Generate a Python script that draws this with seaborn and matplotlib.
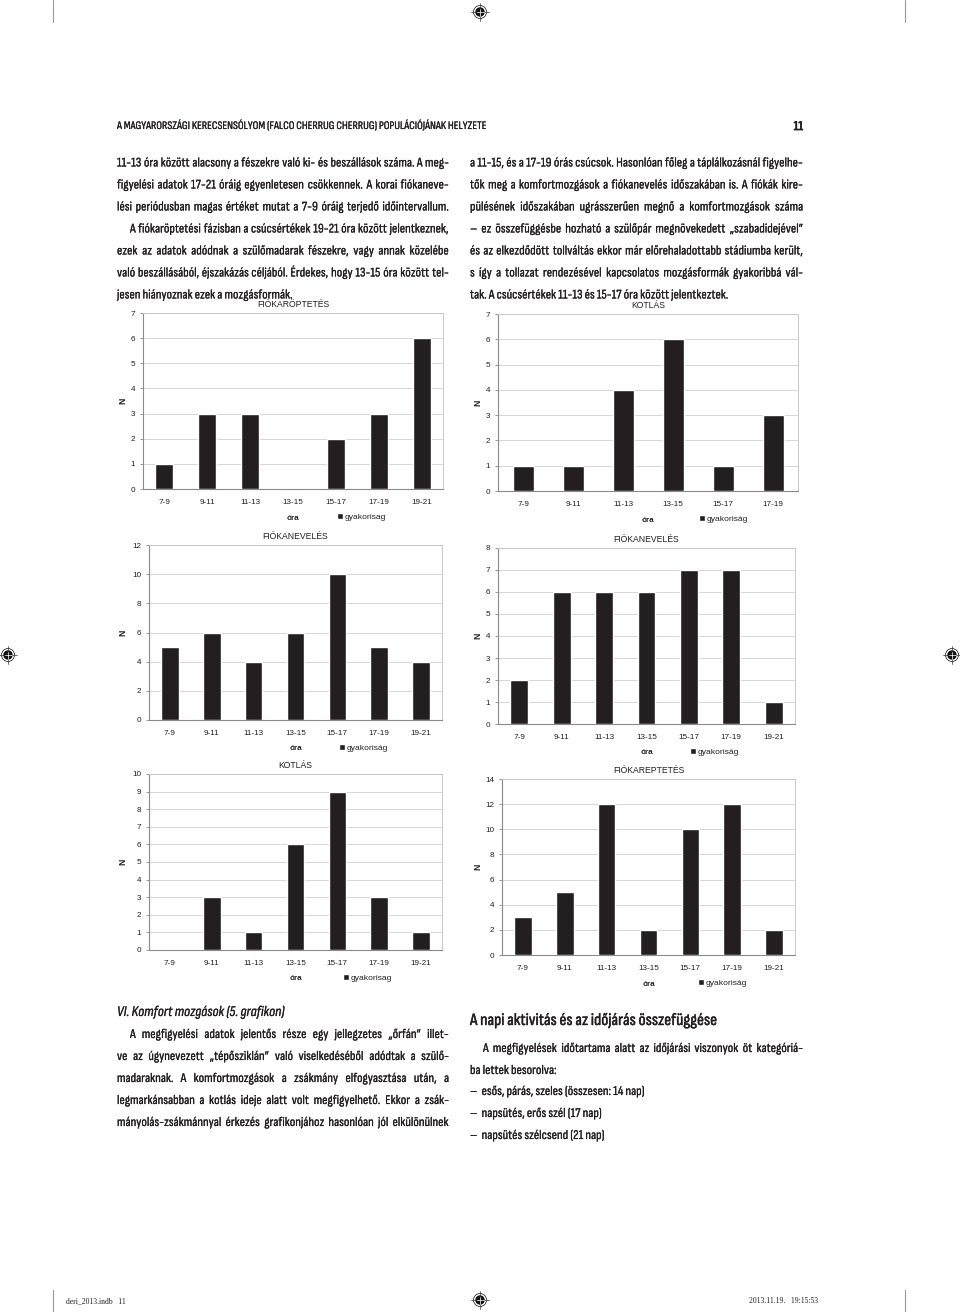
import numpy as np
import pandas as pd
import matplotlib
matplotlib.use("Agg")
import matplotlib.pyplot as plt
import seaborn as sns
from matplotlib import font_manager
from matplotlib.font_manager import FontProperties
from matplotlib.patches import Circle
import matplotlib.patheffects as pe

# ---------------- data ----------------
hours7 = ["7-9", "9-11", "11-13", "13-15", "15-17", "17-19", "19-21"]
hours6 = ["7-9", "9-11", "11-13", "13-15", "15-17", "17-19"]

roptetes_a = [1, 3, 3, 0, 2, 3, 6]          # FIÓKARÖPTETÉS (left top)
kotlas_a = [1, 1, 4, 6, 1, 3]               # KOTLÁS (right top)
neveles_a = [5, 6, 4, 6, 10, 5, 4]          # FIÓKANEVELÉS (left middle)
neveles_b = [2, 6, 6, 6, 7, 7, 1]           # FIÓKANEVELÉS (right middle)
kotlas_b = [0, 3, 1, 6, 9, 3, 1]            # KOTLÁS (left bottom)
reptetes_b = [3, 5, 12, 2, 10, 12, 2]       # FIÓKAREPTETÉS (right bottom)

titles = ["FIÓKARÖPTETÉS", "KOTLÁS", "FIÓKANEVELÉS", "FIÓKANEVELÉS", "KOTLÁS", "FIÓKAREPTETÉS"]
legend_labels = ["gyakorisag", "gyakoriság", "gyakoriság", "gyakoriság", "gyakorisag", "gyakoriság"]
y_max = [7, 7, 12, 8, 10, 14]
y_step = [1, 1, 2, 1, 1, 2]

# ---------------- style ----------------
sns.set_theme(style="white")
names = {f.name for f in font_manager.fontManager.ttflist}
ARIAL = "Liberation Sans" if "Liberation Sans" in names else "DejaVu Sans"
plt.rcParams["font.family"] = [ARIAL, "DejaVu Sans"]

INK = "#231f20"
BAR = "#231f20"
W, H = 960, 1312

fig = plt.figure(figsize=(9.6, 13.12), dpi=100)
fig.patch.set_facecolor("white")


def fx(x):
    return x / W


def fy(y):
    return 1 - y / H


# ---------------- charts ----------------
boxes = [
    (143, 443, 313, 489),
    (498, 798, 314, 491),
    (149, 442, 545, 720),
    (498, 795, 548, 724),
    (149, 442, 774, 950),
    (502, 795, 779, 955),
]
series = [roptetes_a, kotlas_a, neveles_a, neveles_b, kotlas_b, reptetes_b]
cats = [hours7, hours6, hours7, hours7, hours7, hours7]
n_label_x = [123, 478, 123, 478, 123, 478]
legend_sq_x = [337, 699, 339, 690, 343, 698]

for i in range(6):
    x0, x1, yt, yb = boxes[i]
    ax = fig.add_axes([fx(x0), fy(yb), (x1 - x0) / W, (yb - yt) / H])
    df = pd.DataFrame({"ora": cats[i], "N": series[i]})
    sns.barplot(data=df, x="ora", y="N", order=cats[i], color=BAR, saturation=1,
                width=0.42, ax=ax, label=legend_labels[i], zorder=3)
    n = len(cats[i])
    ax.set_xlim(-0.5, n - 0.5)
    ax.set_ylim(0, y_max[i])
    ax.set_yticks(np.arange(0, y_max[i] + 0.1, y_step[i]))
    ax.set_xticks(np.arange(-0.5, n, 1.0), minor=True)
    ax.yaxis.grid(True, color="#d6d6d6", lw=0.7, zorder=0)
    ax.set_axisbelow(True)
    ax.set_xlabel("")
    ax.set_ylabel("")
    for s in ["left", "bottom"]:
        ax.spines[s].set_color("#8a8a8a")
        ax.spines[s].set_linewidth(0.8)
    for s in ["top", "right"]:
        ax.spines[s].set_color("#c8c8c8")
        ax.spines[s].set_linewidth(0.7)
    ax.tick_params(axis="x", which="major", length=0, pad=7, labelsize=5.9, labelcolor=INK)
    ax.tick_params(axis="x", which="minor", length=2.5, width=0.6, color="#8a8a8a", direction="out")
    ax.tick_params(axis="y", which="major", length=2.5, width=0.6, color="#8a8a8a", pad=3,
                   labelsize=5.9, labelcolor=INK, left=True)
    ax.set_title(titles[i], fontsize=6.2, color=INK, pad=4.5)
    fig.text(fx(n_label_x[i]), fy((yt + yb) / 2), "N", rotation=90, fontsize=6.2,
             fontweight="bold", color=INK, ha="center", va="center")
    fig.text(fx((x0 + x1) / 2), fy(yb + 29), "óra", fontsize=5.9, fontweight="bold",
             color=INK, ha="center", va="center")
    leg = ax.legend(loc="center left", bbox_to_anchor=(fx(legend_sq_x[i]), fy(yb + 28)),
                    bbox_transform=fig.transFigure, frameon=False, fontsize=6.1,
                    handlelength=0.65, handleheight=0.65, handletextpad=0.3,
                    borderpad=0, borderaxespad=0)
    for t in leg.get_texts():
        t.set_color(INK)

# ---------------- text ----------------
renderer = fig.canvas.get_renderer()


def make_prop(spec, size, style="normal", weight=None):
    fam, stretch, w = spec
    return FontProperties(family=fam, stretch=stretch, size=size, style=style,
                          weight=(w if weight is None else weight))


def text_width(s, spec, size, **kw):
    t = fig.text(0, 0, s, fontproperties=make_prop(spec, size, **kw))
    w = t.get_window_extent(renderer).width
    t.remove()
    return w


LX0, LX1 = 117, 449
RX0, RX1 = 470, 803
IND = 13

left_lines = [
    ("11-13 óra között alacsony a fészekre való ki- és beszállások száma. A meg-", True, 0),
    ("figyelési adatok 17-21 óráig egyenletesen csökkennek. A korai fiókaneve-", True, 0),
    ("lési periódusban magas értéket mutat a 7-9 óráig terjedő időintervallum.", True, 0),
    ("A fiókaröptetési fázisban a csúcsértékek 19-21 óra között jelentkeznek,", True, IND),
    ("ezek az adatok adódnak a szülőmadarak fészekre, vagy annak közelébe", True, 0),
    ("való beszállásából, éjszakázás céljából. Érdekes, hogy 13-15 óra között tel-", True, 0),
    ("jesen hiányoznak ezek a mozgásformák.", False, 0),
]
right_lines = [
    ("a 11-15, és a 17-19 órás csúcsok. Hasonlóan főleg a táplálkozásnál figyelhe-", True, 0),
    ("tők meg a komfortmozgások a fiókanevelés időszakában is. A fiókák kire-", True, 0),
    ("pülésének időszakában ugrásszerűen megnő a komfortmozgások száma", True, 0),
    ("– ez összefüggésbe hozható a szülőpár megnövekedett „szabadidejével”", True, 0),
    ("és az elkezdődött tollváltás ekkor már előrehaladottabb stádiumba került,", True, 0),
    ("s így a tollazat rendezésével kapcsolatos mozgásformák gyakoribbá vál-", True, 0),
    ("tak. A csúcsértékek 11-13 és 15-17 óra között jelentkeztek.", False, 0),
]
bl_lines = [
    ("A megfigyelési adatok jelentős része egy jellegzetes „őrfán” illet-", True, IND),
    ("ve az úgynevezett „tépősziklán” való viselkedéséből adódtak a szülő-", True, 0),
    ("madaraknak. A komfortmozgások a zsákmány elfogyasztása után, a", True, 0),
    ("legmarkánsabban a kotlás ideje alatt volt megfigyelhető. Ekkor a zsák-", True, 0),
    ("mányolás-zsákmánnyal érkezés grafikonjához hasonlóan jól elkülönülnek", True, 0),
]
br_lines = [
    ("A megfigyelések időtartama alatt az időjárási viszonyok öt kategóriá-", True, IND),
    ("ba lettek besorolva:", False, 0),
    ("–  esős, párás, szeles (összesen: 14 nap)", False, 0),
    ("–  napsütés, erős szél (17 nap)", False, 0),
    ("–  napsütés szélcsend (21 nap)", False, 0),
]
blocks = [(left_lines, LX0, LX1), (right_lines, RX0, RX1),
          (bl_lines, LX0, LX1), (br_lines, RX0, RX1)]


def wnum(w):
    if isinstance(w, (int, float)):
        return int(w)
    return font_manager.weight_dict.get(str(w), 400)


cands = []
for f in font_manager.fontManager.ttflist:
    if f.style != "normal":
        continue
    wn = wnum(f.weight)
    if wn < 300 or wn > 500:
        continue
    if "Narrow" in f.name or "Condensed" in f.name or str(f.stretch) in ("condensed", "semi-condensed"):
        spec = (f.name, f.stretch, wn)
        if spec not in cands:
            cands.append(spec)
for nm in ["Roboto", "Lato", "Liberation Sans", "Open Sans", "Noto Sans", "DejaVu Sans"]:
    if nm in names:
        cands.append((nm, "normal", 400))

TARGET = 9.6


def fit_size(spec):
    r = []
    for lines, a, b in blocks:
        for s, j, ind in lines:
            if j:
                r.append((b - a - ind) / text_width(s, spec, 10))
    return 10 * min(r) * 0.985


best = None
for spec in cands:
    try:
        sz = fit_size(spec)
    except Exception:
        continue
    score = abs(sz - TARGET) + (1.2 if spec[2] < 400 else 0.0)
    if best is None or score < best[0]:
        best = (score, spec, sz)
SPEC = best[1]
BODY = min(best[2], 10.0)
EFF = [pe.withStroke(linewidth=0.13, foreground=INK)]


def put_line(s, x0, x1, base, size, justify=True, indent=0):
    xs = x0 + indent
    if not justify:
        fig.text(fx(xs), fy(base), s, fontproperties=make_prop(SPEC, size), color=INK,
                 va="baseline", ha="left", path_effects=EFF)
        return
    words = s.split(" ")
    widths = [text_width(w, SPEC, size) for w in words]
    gap = (x1 - xs - sum(widths)) / max(len(words) - 1, 1)
    x = xs
    for w, wd in zip(words, widths):
        fig.text(fx(x), fy(base), w, fontproperties=make_prop(SPEC, size), color=INK,
                 va="baseline", ha="left", path_effects=EFF)
        x += wd + gap


for k, (s, j, ind) in enumerate(left_lines):
    put_line(s, LX0, LX1, 166.5 + 22 * k, BODY, j, ind)
for k, (s, j, ind) in enumerate(right_lines):
    put_line(s, RX0, RX1, 166.5 + 22 * k, BODY, j, ind)
for k, (s, j, ind) in enumerate(bl_lines):
    put_line(s, LX0, LX1, 1038 + 22 * k, BODY, j, ind)
br_base = [1052, 1074, 1095, 1117, 1139]
for k, (s, j, ind) in enumerate(br_lines):
    put_line(s, RX0, RX1, br_base[k], BODY, j, ind)

# headings
fig.text(fx(LX0), fy(1016), "VI. Komfort mozgások (5. grafikon)",
         fontproperties=make_prop(SPEC, BODY * 1.12, style="italic"), color=INK,
         va="baseline", path_effects=EFF)
fig.text(fx(RX0), fy(1025), "A napi aktivitás és az időjárás összefüggése",
         fontproperties=make_prop(SPEC, BODY * 1.3, weight=500), color=INK, va="baseline",
         path_effects=[pe.withStroke(linewidth=0.3, foreground=INK)])

# running header
hdr = "A MAGYARORSZÁGI KERECSENSÓLYOM (FALCO CHERRUG CHERRUG) POPULÁCIÓJÁNAK HELYZETE"
hsize = 10 * (487 - 117) / text_width(hdr, SPEC, 10)
fig.text(fx(117), fy(129), hdr, fontproperties=make_prop(SPEC, hsize), color=INK,
         va="baseline", path_effects=EFF)
fig.text(fx(803), fy(130), "11", fontproperties=make_prop(SPEC, 9.5, weight="bold"),
         color=INK, va="baseline", ha="right",
         path_effects=[pe.withStroke(linewidth=0.6, foreground=INK)])

# footer slug
fig.text(fx(66), fy(1303), "deri_2013.indb   11", fontsize=5.5, family="Liberation Serif",
         color=INK, va="baseline")
fig.text(fx(818), fy(1303), "2013.11.19.   19:15:53", fontsize=5.5, family="Liberation Serif",
         color=INK, va="baseline", ha="right")

# printer's marks (decorative)
ov = fig.add_axes([0, 0, 1, 1], zorder=-5)
ov.set_xlim(0, W)
ov.set_ylim(H, 0)
ov.axis("off")
for (cx, cy) in [(480, 12), (480, 1300), (8, 655), (952, 655)]:
    ov.add_patch(Circle((cx, cy), 6.5, fill=False, lw=0.6, color="#333333"))
    ov.add_patch(Circle((cx, cy), 4.0, fill=True, color="#111111"))
    ov.plot([cx - 9, cx + 9], [cy, cy], color="#333333", lw=0.5)
    ov.plot([cx, cx], [cy - 9, cy + 9], color="#333333", lw=0.5)
    ov.plot([cx - 3.5, cx + 3.5], [cy, cy], color="white", lw=0.5)
    ov.plot([cx, cx], [cy - 3.5, cy + 3.5], color="white", lw=0.5)
for x in [53, 905]:
    ov.plot([x, x], [0, 22], color="#999999", lw=0.8)
    ov.plot([x, x], [1290, 1312], color="#999999", lw=0.8)

fig.savefig("out.png", dpi=100, facecolor="white")
